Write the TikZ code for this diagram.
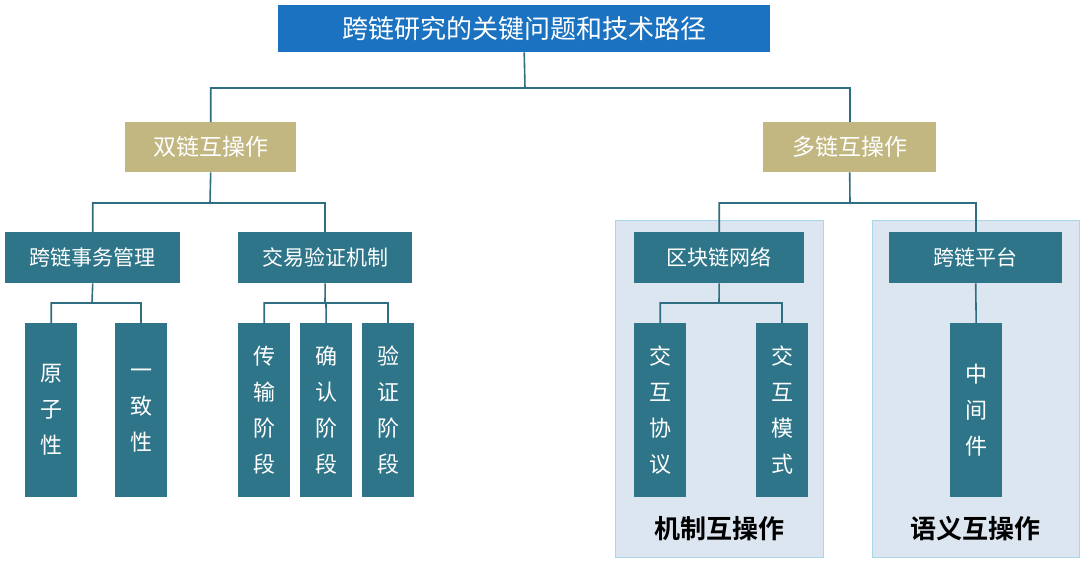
\documentclass[tikz,border=0pt]{standalone}
\usepackage{fontspec}
\setmainfont{Noto Sans CJK SC}
\newfontfamily\cjkb{Noto Sans CJK SC Bold}
\definecolor{tblue}{HTML}{1B72C0}
\definecolor{tan}{HTML}{C2B780}
\definecolor{teal}{HTML}{2F7589}
\definecolor{pfill}{HTML}{DCE6F0}
\definecolor{pline}{HTML}{A9D7E6}
\definecolor{wire}{HTML}{2F6E80}
\begin{document}
\begin{tikzpicture}[x=1pt,y=-1pt,
  box/.style={draw=none,fill=teal,text=white,font=\fontsize{21}{24}\selectfont,inner sep=0,anchor=north west},
  vbox/.style={box,align=center,font=\fontsize{22}{36}\selectfont},
  wire/.style={draw=wire,line width=1.6pt}]
\useasboundingbox (0,0) rectangle (1080,568);
\fill[pfill,draw=pline,line width=1pt] (615,220) rectangle (823,557);
\fill[pfill,draw=pline,line width=1pt] (872,220) rectangle (1079,557);
\node[box,fill=tblue,minimum width=492,minimum height=47,font=\fontsize{26}{30}\selectfont] (t) at (278,5) {跨链研究的关键问题和技术路径};
\node[box,fill=tan,minimum width=171,minimum height=50,font=\fontsize{23}{26}\selectfont] (d) at (125,122) {双链互操作};
\node[box,fill=tan,minimum width=173,minimum height=50,font=\fontsize{23}{26}\selectfont] (m) at (763,122) {多链互操作};
\node[box,minimum width=175,minimum height=51] (a) at (5,232) {跨链事务管理};
\node[box,minimum width=174,minimum height=51] (b) at (238,232) {交易验证机制};
\node[box,minimum width=170,minimum height=51] (c) at (634,232) {区块链网络};
\node[box,minimum width=173,minimum height=51] (e) at (889,232) {跨链平台};
\foreach \n/\x/\t in {a1/25/原\\子\\性, a2/115/一\\致\\性, b1/238/传\\输\\阶\\段, b2/300/确\\认\\阶\\段, b3/362/验\\证\\阶\\段, c1/634/交\\互\\协\\议, c2/756/交\\互\\模\\式, e1/950/中\\间\\件}
  \node[vbox,minimum width=52,minimum height=174] (\n) at (\x,323) {\t};
\node[font=\cjkb\fontsize{26}{30}\selectfont] at (719,529) {机制互操作};
\node[font=\cjkb\fontsize{26}{30}\selectfont] at (975,529) {语义互操作};
\draw[wire] (t.south) -- (525,88) -| (d.north);
\draw[wire] (525,88) -| (m.north);
\draw[wire] (d.south) -- (210,203) -| (a.north);
\draw[wire] (210,203) -| (b.north);
\draw[wire] (m.south) -- (850,203) -| (c.north);
\draw[wire] (850,203) -| (e.north);
\draw[wire] (a.south) -- (92,303) -| (a1.north);
\draw[wire] (92,303) -| (a2.north);
\draw[wire] (b.south) -- (325,303) -| (b1.north);
\draw[wire] (325,303) -| (b3.north);
\draw[wire] (b2.north) -- (326,303);
\draw[wire] (c.south) -- (719,303) -| (c1.north);
\draw[wire] (719,303) -| (c2.north);
\draw[wire] (e.south) -- (e1.north);
\end{tikzpicture}
\end{document}
